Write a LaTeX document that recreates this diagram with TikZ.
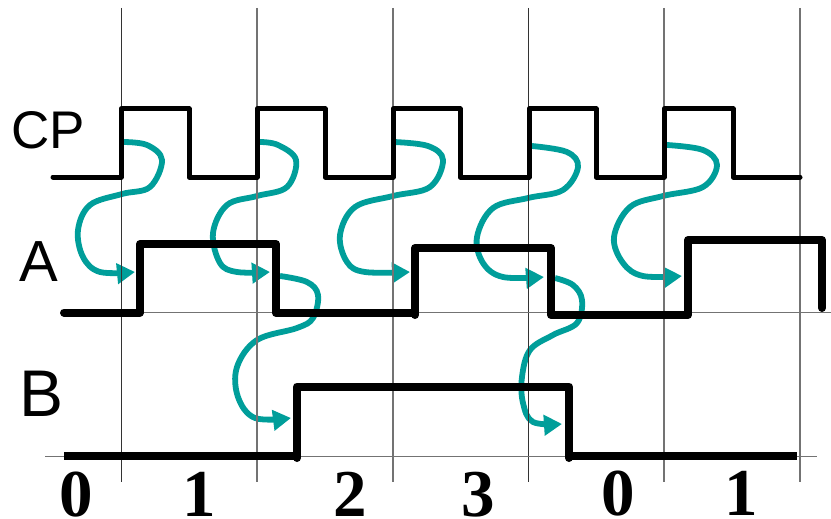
\documentclass[tikz,border=0pt]{standalone}
\usepackage{fontspec}
\setmainfont{Liberation Sans}
\newfontfamily\digitfont{Liberation Serif}
\usetikzlibrary{arrows.meta}
\definecolor{tealcurve}{HTML}{009E9A}
\tikzset{
  gridline/.style={line width=1pt,draw=black!80},
  gridfaint/.style={line width=1.1pt,draw=black!55},
  clockwave/.style={line width=5pt,line join=round,line cap=round,draw=black},
  statewave/.style={line width=8pt,line join=round,line cap=round,draw=black},
  statebutt/.style={line width=8pt,line cap=butt,draw=black},
  cause/.style={line width=5.8pt,line join=round,draw=tealcurve,-{Triangle[length=18pt,width=20pt,fill=tealcurve]}},
  siglabel/.style={anchor=base,inner sep=0pt},
  countlabel/.style={anchor=base,font=\digitfont\bfseries\fontsize{67}{67}\selectfont,inner sep=0pt}
}
\begin{document}
\begin{tikzpicture}[x=1pt,y=-1pt]
\useasboundingbox (0,0) rectangle (831,519);
% causal curves
\draw[cause] plot[smooth,tension=0.6] coordinates {(123,142) (147,145) (162,160) (150,187) (122,194) (90,205) (78,230) (83,257) (100,272) (135,272)};
\draw[cause] plot[smooth,tension=0.6] coordinates {(260,142) (278,145) (296,160) (287,187) (257,196) (227,205) (213,233) (220,263) (237,272) (270,272)};
\draw[cause] plot[smooth,tension=0.6] coordinates {(394,142) (428,146) (443,160) (430,187) (393,196) (355,207) (340,235) (347,262) (365,272) (410,272)};
\draw[cause] plot[smooth,tension=0.6] coordinates {(532,146) (567,152) (578,167) (563,190) (528,198) (493,208) (477,237) (483,263) (503,277) (544,277)};
\draw[cause] plot[smooth,tension=0.6] coordinates {(667,145) (703,150) (717,165) (703,187) (663,196) (630,207) (614,237) (623,263) (643,276) (682,276)};
\draw[cause] plot[smooth,tension=0.6] coordinates {(280,276) (307,282) (318,295) (313,318) (297,328) (257,340) (237,367) (238,397) (255,418) (291,418)};
\draw[cause] plot[smooth,tension=0.6] coordinates {(555,278) (573,285) (582,300) (577,323) (553,335) (530,350) (522,377) (523,403) (533,422) (562,424)};
% grid
\foreach \x in {121.5,528.5} \draw[gridline] (\x,8) -- (\x,482);
\foreach \x in {257,393,664,800} \draw[gridfaint] (\x,8) -- (\x,482);
\draw[gridfaint] (120,312.5) -- (831,312.5);
\draw[gridfaint] (45,456.5) -- (817,456.5);
% CP
\draw[clockwave] (53,177) -- (121,177) -- (121,109) -- (189,109) -- (189,177) -- (257,177) -- (257,109) -- (325,109) -- (325,177) -- (393,177) -- (393,109) -- (460,109) -- (460,177) -- (529,177) -- (529,109) -- (596,109) -- (596,177) -- (664,177) -- (664,109) -- (733,109) -- (733,177) -- (800,177);
% A
\draw[statewave] (64,312.5) -- (140,312.5) -- (140,244) -- (276,244) -- (276,313) -- (415,313) (415,315) -- (415,248) -- (551,248) -- (551,315) -- (688,315) -- (688,240) -- (822,240) -- (822,308);
% B
\draw[statebutt] (64,456) -- (297,456);
\draw[statewave] (297,458) -- (297,386.5) -- (569,386.5) -- (569,458);
\draw[statebutt] (569,456) -- (797,456);
% labels
\node[siglabel,font=\fontsize{53}{53}\selectfont] at (48,148) {CP};
\node[siglabel,font=\fontsize{58}{58}\selectfont] at (39,281) {A};
\node[siglabel,font=\fontsize{66}{66}\selectfont] at (42,416) {B};
\node[countlabel] at (76,516) {0};
\node[countlabel] at (199,516) {1};
\node[countlabel] at (350,516) {2};
\node[countlabel] at (478,516) {3};
\node[countlabel] at (618,515) {0};
\node[countlabel] at (741,515) {1};
\end{tikzpicture}
\end{document}
